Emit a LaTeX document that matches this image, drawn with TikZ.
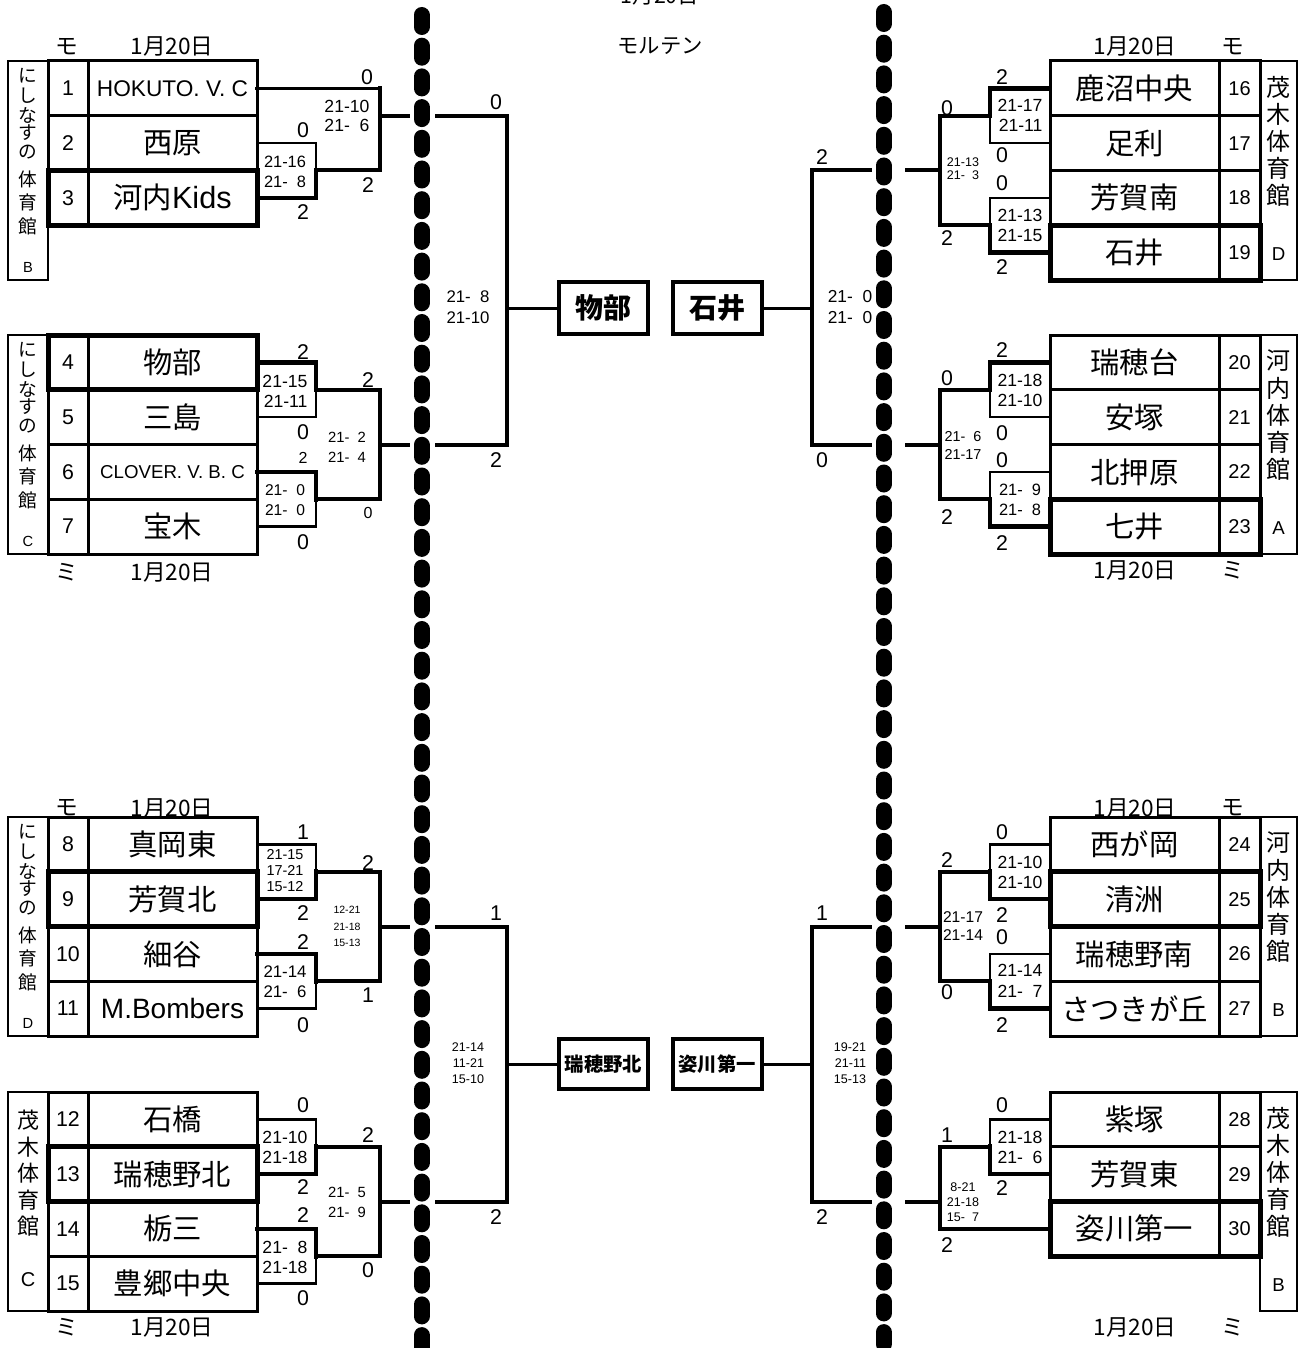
\documentclass[tikz,border=0pt]{standalone}
\usepackage{fontspec}
\setmainfont{Liberation Sans}
\newfontfamily\jp{Noto Sans CJK JP}
\usetikzlibrary{calc}
\newcommand\fs[1]{\fontsize{#1pt}{#1pt}\selectfont}
\newcommand\fsp{\phantom{0}}
\tikzset{
  cell/.style={draw, line width=2.25pt, inner sep=0pt, outer sep=0pt, minimum height=41.0625pt},
  numL/.style={cell, minimum width=30pt, font=\fs{16}},
  numR/.style={cell, minimum width=30.75pt, font=\fs{15}},
  namec/.style={cell, minimum width=126.75pt, font={\jp\fs{22}}},
  venueL/.style={draw, line width=1.6pt, inner sep=0pt, outer sep=0pt, minimum width=30pt, minimum height=164.25pt},
  venueR/.style={draw, line width=1.6pt, inner sep=0pt, outer sep=0pt, minimum width=27.75pt, minimum height=164.25pt},
  vtxtL/.style={inner sep=0pt, font={\jp\fs{14}}},
  vletL/.style={inner sep=0pt, font=\fs{11}},
  vtxtR/.style={inner sep=0pt, font={\jp\fs{18}}},
  vletR/.style={inner sep=0pt, font=\fs{14}},
  boldrow/.style={draw, line width=3.75pt},
  win/.style={line width=3.4pt, line cap=rect},
  lose/.style={line width=1.9pt, line cap=rect},
  midl/.style={line width=2.5pt, line cap=rect},
  outer/.style={line width=3pt, line cap=rect},
  fline/.style={line width=2.25pt},
  fbox/.style={draw, line width=3pt, inner sep=0pt, outer sep=0pt, minimum width=66.75pt},
  dig/.style={inner sep=0pt, font=\fs{16}},
  digs/.style={inner sep=0pt, font=\fs{12}},
  scol/.style={inner sep=0pt},
  lab/.style={inner sep=0pt, font={\jp\fs{17}}},
  dotline/.style={line width=12pt, line cap=round, dash pattern=on 9pt off 14.025pt},
}
\newcommand\LRow[4]{%
  \node[numL] (n#1) at (68,#2) {#3};
  \node[namec] (t#1) at (172.5,#2) {#4};}
\newcommand\RRow[4]{%
  \node[namec] (t#1) at (1134.5,#2) {#4};
  \node[numR] (n#1) at (1239.5,#2) {#3};}
\newcommand\venL[3]{%
  \node[venueL] (v#1) at (28,#2+109.5) {};
  \foreach \c/\o [count=\i] in {に/15,し/35,な/54,す/72,の/91,体/118,育/141,館/165}
    \node[vtxtL] (v#1c\i) at (28,#2+\o) {\c};
  \node[vletL] (v#1l) at (28,#2+206) {#3};}
\newcommand\venR[4]{%
  \node[venueR] (v#1) at (1278.5,#2+109.5) {};
  \foreach \c [count=\i from 0] in {#3}
    \node[vtxtR] (v#1c\i) at (1278.5,#2+26+27*\i) {\c};
  \node[vletR] (v#1l) at (1278.5,#2+193) {#4};}
\newcommand\IBL[5]{%
  \coordinate (#5) at ($(#1.east)!0.5!(#2.east)+(59,0)$);
  \draw[#3] (#1.east) -- ++(59,0) -- (#5);
  \draw[#4] (#2.east) -- ++(59,0) -- (#5);
  \draw[outer] (#5) -- ++(64,0) coordinate (#5o);}
\newcommand\IBR[5]{%
  \coordinate (#5) at ($(#1.west)!0.5!(#2.west)+(-60,0)$);
  \draw[#3] (#1.west) -- ++(-60,0) -- (#5);
  \draw[#4] (#2.west) -- ++(-60,0) -- (#5);
  \draw[outer] (#5) -- ++(-50,0) coordinate (#5o);}
\newcommand\dg[3]{\node[dig] (d#1x#2) at (#1,#2) {#3};}
\newcommand\dgs[3]{\node[digs] (d#1x#2) at (#1,#2) {#3};}
\newcommand\sco[7][right]{\node[scol, align=#1, font={\fontsize{#5pt}{#6pt}\selectfont}] (#2) at (#3,#4) {#7};}
\begin{document}
\begin{tikzpicture}[x=0.75pt, y=-0.75pt]
\fill[white] (0,0) rectangle (1301,1348);
\useasboundingbox (0,0) rectangle (1301,1348);

% ---------- top titles
\node[inner sep=0pt, font={\jp\fs{16}}] (ttl1) at (660,-4) {1月20日};
\node[inner sep=0pt, font={\jp\fs{16}}] (ttl2) at (660,46) {モルテン};

% ---------- TL block
\venL{A}{61}{B}
\LRow{1}{88.375}{1}{{\rmfamily\fs{17}HOKUTO. V. C}}
\LRow{2}{143.125}{2}{西原}
\LRow{3}{197.875}{3}{河内{\rmfamily\fs{23}Kids}}
\draw[boldrow] (n3.north west) rectangle (t3.south east);
\node[lab] (h1) at (67,47) {モ};
\node[lab] (h2) at (172,47) {1月20日};
\draw[midl] (t1.east) -- ++(123,0) coordinate (a1);
\IBL{t2}{t3}{lose}{win}{m2}
\draw[outer] (a1) -- (m2o);
\draw[outer] (380,115.75) -- (408,115.75);

% ---------- ML block
\venL{B}{335}{C}
\LRow{4}{362.375}{4}{物部}
\LRow{5}{417.125}{5}{三島}
\LRow{6}{471.875}{6}{{\rmfamily\fs{14}CLOVER. V. B. C}}
\LRow{7}{526.625}{7}{宝木}
\draw[boldrow] (n4.north west) rectangle (t4.south east);
\node[lab] (h3) at (67,572) {ミ};
\node[lab] (h4) at (172,572) {1月20日};
\IBL{t4}{t5}{win}{lose}{m4}
\IBL{t6}{t7}{win}{lose}{m6}
\draw[outer] (m4o) -- (m6o);
\draw[outer] (380,444.5) -- (408,444.5);

% ---------- BL-D block
\venL{C}{817}{D}
\LRow{8}{844.375}{8}{真岡東}
\LRow{9}{899.125}{9}{芳賀北}
\LRow{10}{953.875}{10}{細谷}
\LRow{11}{1008.625}{11}{{\rmfamily\fs{21}M.Bombers}}
\draw[boldrow] (n9.north west) rectangle (t9.south east);
\node[lab] (h5) at (67,808) {モ};
\node[lab] (h6) at (172,808) {1月20日};
\IBL{t8}{t9}{lose}{win}{m8}
\IBL{t10}{t11}{win}{lose}{m10}
\draw[outer] (m8o) -- (m10o);
\draw[outer] (380,926.5) -- (408,926.5);

% ---------- BL-C block
\node[venueL] (vH) at (28,1201.5) {};
\foreach \c/\o [count=\i] in {茂/1120,木/1147,体/1173,育/1200,館/1226}
  \node[inner sep=0pt, font={\jp\fs{16.5}}] (vHc\i) at (28,\o) {\c};
\node[inner sep=0pt, font=\fs{15}] (vHl) at (28,1280) {C};
\LRow{12}{1119.375}{12}{石橋}
\LRow{13}{1174.125}{13}{瑞穂野北}
\LRow{14}{1228.875}{14}{栃三}
\LRow{15}{1283.625}{15}{豊郷中央}
\draw[boldrow] (n13.north west) rectangle (t13.south east);
\node[lab] (h7) at (67,1327) {ミ};
\node[lab] (h8) at (172,1327) {1月20日};
\IBL{t12}{t13}{lose}{win}{m12}
\IBL{t14}{t15}{win}{lose}{m14}
\draw[outer] (m12o) -- (m14o);
\draw[outer] (380,1201.5) -- (408,1201.5);

% ---------- TR block
\venR{D}{61}{茂,木,体,育,館}{D}
\RRow{16}{88.375}{16}{鹿沼中央}
\RRow{17}{143.125}{17}{足利}
\RRow{18}{197.875}{18}{芳賀南}
\RRow{19}{252.625}{19}{石井}
\draw[boldrow] (t19.north west) rectangle (n19.south east);
\node[lab] (h9) at (1135,47) {1月20日};
\node[lab] (h10) at (1233,47) {モ};
\IBR{t16}{t17}{win}{lose}{m16}
\IBR{t18}{t19}{lose}{win}{m18}
\draw[outer] (m16o) -- (m18o);
\draw[outer] (940,170.5) -- (907,170.5);

% ---------- MR block
\venR{E}{335}{河,内,体,育,館}{A}
\RRow{20}{362.375}{20}{瑞穂台}
\RRow{21}{417.125}{21}{安塚}
\RRow{22}{471.875}{22}{北押原}
\RRow{23}{526.625}{23}{七井}
\draw[boldrow] (t23.north west) rectangle (n23.south east);
\node[lab] (h11) at (1135,570) {1月20日};
\node[lab] (h12) at (1233,570) {ミ};
\IBR{t20}{t21}{win}{lose}{m20}
\IBR{t22}{t23}{lose}{win}{m22}
\draw[outer] (m20o) -- (m22o);
\draw[outer] (940,444.5) -- (907,444.5);

% ---------- BR-B block
\venR{F}{817}{河,内,体,育,館}{B}
\RRow{24}{844.375}{24}{西が岡}
\RRow{25}{899.125}{25}{清洲}
\RRow{26}{953.875}{26}{瑞穂野南}
\RRow{27}{1008.625}{27}{さつきが丘}
\draw[boldrow] (t25.north west) rectangle (n25.south east);
\node[lab] (h13) at (1135,808) {1月20日};
\node[lab] (h14) at (1233,808) {モ};
\IBR{t24}{t25}{lose}{win}{m24}
\IBR{t26}{t27}{lose}{win}{m26}
\draw[outer] (m24o) -- (m26o);
\draw[outer] (940,926.5) -- (907,926.5);

% ---------- BR-B2 block
\venR{G}{1092}{茂,木,体,育,館}{B}
\RRow{28}{1119.375}{28}{紫塚}
\RRow{29}{1174.125}{29}{芳賀東}
\RRow{30}{1228.875}{30}{姿川第一}
\draw[boldrow] (t30.north west) rectangle (n30.south east);
\node[lab] (h15) at (1135,1327) {1月20日};
\node[lab] (h16) at (1233,1327) {ミ};
\IBR{t28}{t29}{lose}{win}{m28}
\draw[win] (t30.west) -- ++(-110,0) coordinate (a30);
\draw[outer] (m28o) -- (a30);
\draw[outer] (940,1201.5) -- (907,1201.5);

% ---------- finals
\node[fbox, minimum height=39pt, font={\jp\bfseries\fs{21}}] (fA) at (603.5,308) {物部};
\node[fbox, minimum height=39pt, font={\jp\bfseries\fs{21}}] (fB) at (717,308) {石井};
\node[fbox, minimum height=37.5pt, font={\jp\bfseries\fs{14.5}}] (fC) at (603.5,1064) {瑞穂野北};
\node[fbox, minimum height=37.5pt, font={\jp\bfseries\fs{14.5}}] (fD) at (717,1064) {姿川第一};

\draw[outer] (437,115.75) -- (507,115.75) -- (507,444.5) -- (437,444.5);
\draw[fline] (507,308) -- (fA.west);
\draw[outer] (437,926.5) -- (507,926.5) -- (507,1201.5) -- (437,1201.5);
\draw[fline] (507,1064) -- (fC.west);
\draw[outer] (870,170.5) -- (812,170.5) -- (812,444.5) -- (870,444.5);
\draw[fline] (fB.east) -- (812,308);
\draw[outer] (870,926.5) -- (812,926.5) -- (812,1201.5) -- (870,1201.5);
\draw[fline] (fD.east) -- (812,1064);

% ---------- set scores
\sco{s1}{285}{172}{12.3}{15}{21-16\\21-\fsp 8}
\sco{s2}{347}{116}{13.2}{14.25}{21-10\\21-\fsp 6}
\sco{s3}{468}{307.5}{12.6}{15.75}{21-\fsp 8\\21-10}
\sco{s4}{850}{307.5}{13}{15.75}{21-\fsp 0\\21-\fsp 0}
\sco{s5}{285}{391}{13.2}{15}{21-15\\21-11}
\sco{s6}{347}{447}{11.1}{15}{21-\fsp 2\\21-\fsp 4}
\sco{s7}{285}{500}{11.7}{15}{21-\fsp 0\\21-\fsp 0}
\sco{s8}{285}{871}{10.8}{12}{21-15\\17-21\\15-12}
\sco{s9}{347}{926.5}{7.9}{12.4}{12-21\\21-18\\15-13}
\sco{s10}{285}{982}{12.6}{15}{21-14\\21-\fsp 6}
\sco{s11}{285}{1147}{13.2}{15}{21-10\\21-18}
\sco{s12}{347}{1202}{11.1}{15}{21-\fsp 5\\21-\fsp 9}
\sco{s13}{285}{1257}{13.2}{15}{21-\fsp 8\\21-18}
\sco{s14}{468}{1063}{9.4}{12}{21-14\\11-21\\15-10}
\sco{s15}{850}{1063}{9.4}{12}{19-21\\21-11\\15-13}
\sco{s16}{1020}{115}{13.2}{15}{21-17\\21-11}
\sco{s17}{963}{168.5}{9.4}{9.75}{21-13\\21-\fsp 3}
\sco{s18}{1020}{225}{13.2}{15}{21-13\\21-15}
\sco{s19}{1020}{390.5}{13.2}{15.5}{21-18\\21-10}
\sco{s20}{963}{445}{10.8}{13.5}{21-\fsp 6\\21-17}
\sco{s21}{1020}{500}{12.3}{15}{21-\fsp 9\\21-\fsp 8}
\sco{s22}{1020}{872}{13.2}{15}{21-10\\21-10}
\sco{s23}{963}{926}{11.7}{13.5}{21-17\\21-14}
\sco{s24}{1020}{980.5}{13.2}{15.75}{21-14\\21-\fsp 7}
\sco{s25}{1020}{1147}{13.2}{15}{21-18\\21-\fsp 6}
\sco[center]{s26}{963}{1202}{9.4}{11.25}{8-21\\21-18\\15-\fsp 7}

% ---------- match scores
\dg{367}{77}{0}\dg{303}{130}{0}\dg{303}{212}{2}\dg{368}{185}{2}
\dg{303}{352}{2}\dg{368}{380}{2}\dg{303}{432}{0}\dgs{303}{458}{2}\dgs{368}{513}{0}\dg{303}{542}{0}
\dg{303}{832}{1}\dg{368}{863}{2}\dg{303}{913}{2}\dg{303}{942}{2}\dg{368}{995}{1}\dg{303}{1025}{0}
\dg{303}{1105}{0}\dg{368}{1135}{2}\dg{303}{1187}{2}\dg{303}{1215}{2}\dg{368}{1270}{0}\dg{303}{1298}{0}
\dg{1002}{77}{2}\dg{947}{108}{0}\dg{1002}{155}{0}\dg{1002}{183}{0}\dg{1002}{267}{2}\dg{947}{238}{2}
\dg{1002}{350}{2}\dg{947}{378}{0}\dg{1002}{433}{0}\dg{1002}{460}{0}\dg{947}{517}{2}\dg{1002}{543}{2}
\dg{1002}{832}{0}\dg{947}{860}{2}\dg{1002}{915}{2}\dg{1002}{937}{0}\dg{947}{992}{0}\dg{1002}{1025}{2}
\dg{1002}{1105}{0}\dg{947}{1135}{1}\dg{1002}{1188}{2}\dg{947}{1245}{2}
\dg{496}{102}{0}\dg{496}{460}{2}\dg{822}{157}{2}\dg{822}{460}{0}
\dg{496}{913}{1}\dg{496}{1217}{2}\dg{822}{913}{1}\dg{822}{1217}{2}

% ---------- dotted dividers
\draw[dotline] (421.5,15) -- (421.5,1370);
\draw[dotline] (883.5,12) -- (883.5,1370);
\end{tikzpicture}
\end{document}
